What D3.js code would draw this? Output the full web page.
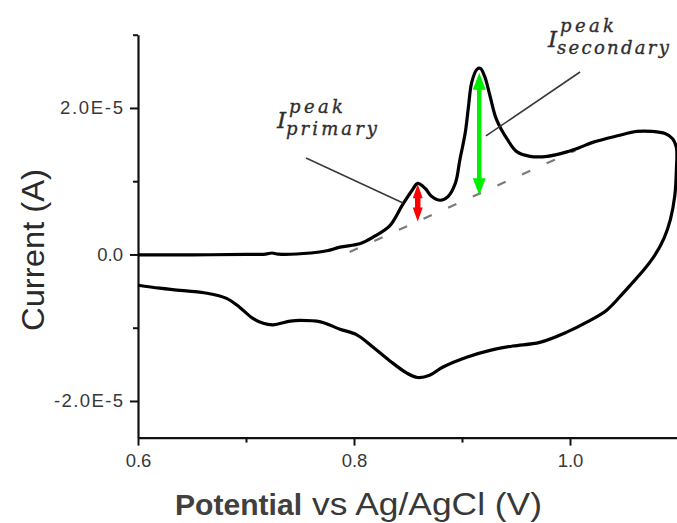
<!DOCTYPE html>
<html>
<head>
<meta charset="utf-8">
<script src="https://cdn.jsdelivr.net/npm/d3@7/dist/d3.min.js"></script>
<style>
  html, body { margin: 0; padding: 0; background: #fff; }
  svg { display: block; }
</style>
</head>
<body>
<svg id="chart" width="677" height="523"></svg>
<script>
// ---------- DATA ----------
// Cyclic voltammogram: potential (V vs Ag/AgCl) and current (µA), forward then reverse scan
const potential = [
  0.600, 0.650, 0.700, 0.718, 0.724, 0.730, 0.760, 0.775, 0.787, 0.806, 0.818, 0.833, 0.845, 0.854,
  0.859, 0.866, 0.872, 0.880, 0.887, 0.894, 0.898, 0.903, 0.906, 0.909, 0.914, 0.917, 0.921, 0.926,
  0.932, 0.942, 0.951, 0.963, 0.979, 0.997, 1.009, 1.021, 1.044, 1.062, 1.076, 1.088, 1.095, 1.0985,
  1.0985,
  1.097, 1.093, 1.087, 1.079, 1.069, 1.057, 1.049, 1.034, 1.016, 0.997, 0.972, 0.947, 0.926,
  0.905, 0.882, 0.870, 0.859, 0.849, 0.833, 0.818, 0.803, 0.787, 0.769, 0.750, 0.741, 0.725, 0.716,
  0.706, 0.694, 0.682, 0.664, 0.639, 0.620, 0.600
];
const currentMicroA = [
  -0.05, -0.05, 0.0, 0.05, 0.2, 0.05, 0.2, 0.5, 1.0, 1.5, 2.4, 3.9, 6.8, 8.8,
  9.7, 9.0, 7.9, 7.4, 7.9, 9.8, 12.9, 16.6, 20.2, 23.5, 25.3, 25.4, 24.3, 21.6,
  18.4, 15.7, 14.0, 13.4, 13.4, 14.0, 14.6, 15.3, 16.2, 16.8, 16.8, 16.5, 15.8, 14.6,
  11.5,
  8.0, 4.8, 2.2, 0.0, -2.0, -4.0, -5.3, -7.6, -9.2, -10.6, -12.0, -12.5, -13.1,
  -14.0, -15.4, -16.5, -16.8, -16.2, -14.5, -12.7, -11.0, -10.2, -9.2, -9.0, -9.1, -9.6, -9.4,
  -8.7, -7.2, -6.0, -5.3, -4.9, -4.6, -4.2
];

// Baseline (dashed) endpoints
const baselineV = [0.796, 1.005];
const baselineI = [0.34, 14.2];

// Peak-height arrows: [potential, bottom current, top current]
const primaryArrow = [0.859, 4.5, 9.6];
const secondaryArrow = [0.916, 8.1, 24.8];

// Leader lines [V1, I1, V2, I2]
const primaryLeader = [0.7556, 13.17, 0.8454, 7.03];
const secondaryLeader = [1.0093, 24.91, 0.9222, 16.18];

// Label anchors [V, I] (left edge of "I", baseline)
const primaryLabelAt = [0.7287, 17.2];
const secondaryLabelAt = [0.9796, 28.3];
const labelSubs = ["primary", "secondary"];
const labelSup = "peak";

// Axes
const xDomain = [0.6, 1.1];
const yDomain = [-25, 30];
const xTicks = [0.6, 0.8, 1.0];
const xTickLabels = ["0.6", "0.8", "1.0"];
const xMinorTicks = [0.7, 0.9];
const yTicks = [-20, 0, 20];
const yTickLabels = ["-2.0E-5", "0.0", "2.0E-5"];
const yMinorTicks = [-10, 10, 30];
const xTitleBold = "Potential";
const xTitleRest = "vs Ag/AgCl (V)";
const yTitle = "Current (A)";

// ---------- DRAW ----------
const svg = d3.select("#chart");
svg.append("rect").attr("width", 677).attr("height", 523).attr("fill", "#fff");

const x = d3.scaleLinear().domain(xDomain).range([138, 678]);
const y = d3.scaleLinear().domain(yDomain).range([437.6, 34.7]);

const textColor = "#383838";

// x axis
svg.append("g").attr("transform", "translate(0,437.6)")
  .call(d3.axisBottom(x).tickValues(xTicks).tickSize(8).tickSizeOuter(0).tickPadding(8)
    .tickFormat((d, i) => xTickLabels[i]));
svg.append("g").attr("transform", "translate(0,437.6)")
  .call(d3.axisBottom(x).tickValues(xMinorTicks).tickSize(5).tickSizeOuter(0).tickFormat(""))
  .select(".domain").remove();

// y axis
const yAxis = svg.append("g").attr("transform", "translate(138,0)")
  .call(d3.axisLeft(y).tickValues(yTicks).tickSize(8).tickSizeOuter(0).tickPadding(7)
    .tickFormat((d, i) => yTickLabels[i]));
svg.append("g").attr("transform", "translate(138,0)")
  .call(d3.axisLeft(y).tickValues(yMinorTicks).tickSize(5).tickSizeOuter(0).tickFormat(""))
  .select(".domain").remove();

svg.selectAll(".domain").attr("stroke", "#111").attr("stroke-width", 2.2);
svg.selectAll(".tick line").attr("stroke", "#111").attr("stroke-width", 2);
svg.selectAll(".tick text")
  .attr("font-family", "'Liberation Sans', Arial, sans-serif")
  .attr("font-size", 18.5)
  .attr("fill", textColor);
yAxis.selectAll(".tick text").each(function(d, i) {
  const t = yTickLabels[i];
  if (t.indexOf("E") >= 0) d3.select(this).attr("textLength", t.length === 7 ? 69 : 63).attr("lengthAdjust", "spacing");
});

// axis titles
svg.append("text").attr("x", 175).attr("y", 515)
  .attr("font-family", "'Liberation Sans', Arial, sans-serif").attr("font-weight", "bold")
  .attr("font-size", 30).attr("fill", "#404040")
  .attr("textLength", 127).attr("lengthAdjust", "spacingAndGlyphs")
  .text(xTitleBold);
svg.append("text").attr("x", 312).attr("y", 515)
  .attr("font-family", "'Liberation Sans', Arial, sans-serif")
  .attr("font-size", 31).attr("fill", textColor)
  .attr("textLength", 230).attr("lengthAdjust", "spacingAndGlyphs")
  .text(xTitleRest);
svg.append("text")
  .attr("transform", "translate(44,250) rotate(-90)")
  .attr("text-anchor", "middle")
  .attr("font-family", "'Liberation Sans', Arial, sans-serif")
  .attr("font-size", 31).attr("fill", "#2a2a2a")
  .attr("textLength", 162).attr("lengthAdjust", "spacingAndGlyphs")
  .text(yTitle);

// dashed baseline
svg.append("line")
  .attr("x1", x(baselineV[0])).attr("y1", y(baselineI[0]))
  .attr("x2", x(baselineV[1])).attr("y2", y(baselineI[1]))
  .attr("stroke", "#7a7a7a").attr("stroke-width", 2.2)
  .attr("stroke-dasharray", "9,18");

// CV curve
const pts = potential.map((v, i) => [v, currentMicroA[i]]);
const line = d3.line().x(d => x(d[0])).y(d => y(d[1])).curve(d3.curveCatmullRom.alpha(0.5));
svg.append("path").datum(pts).attr("d", line)
  .attr("fill", "none").attr("stroke", "#000").attr("stroke-width", 3.2)
  .attr("stroke-linejoin", "round");

// leader lines
[primaryLeader, secondaryLeader].forEach(l => {
  svg.append("line")
    .attr("x1", x(l[0])).attr("y1", y(l[1])).attr("x2", x(l[2])).attr("y2", y(l[3]))
    .attr("stroke", "#3a3a3a").attr("stroke-width", 1.6);
});

// double-headed arrows
function arrow(a, color, headLen, headW, shaftW) {
  const xp = x(a[0]), yb = y(a[1]), yt = y(a[2]);
  const g = svg.append("g");
  g.append("line").attr("x1", xp).attr("x2", xp).attr("y1", yb - headLen * 0.6).attr("y2", yt + headLen * 0.6)
    .attr("stroke", color).attr("stroke-width", shaftW);
  g.append("path").attr("d", `M${xp},${yt} L${xp - headW / 2},${yt + headLen} L${xp + headW / 2},${yt + headLen} Z`).attr("fill", color);
  g.append("path").attr("d", `M${xp},${yb} L${xp - headW / 2},${yb - headLen} L${xp + headW / 2},${yb - headLen} Z`).attr("fill", color);
}
arrow(primaryArrow, "#ff0000", 14, 10, 5.5);
arrow(secondaryArrow, "#00ee00", 17, 13, 4.5);

// labels I^{peak}_{sub}
function peakLabel(at, sub, subLen) {
  const x0 = x(at[0]), b = y(at[1]);
  const g = svg.append("g").attr("fill", "#2e2e2e").attr("stroke", "#2e2e2e").attr("stroke-width", 0.35)
    .attr("font-family", "'DejaVu Serif', serif").attr("font-style", "italic");
  g.append("text").attr("x", x0).attr("y", b).attr("font-size", 23).text("I");
  g.append("text").attr("x", x0 + 12).attr("y", b - 15).attr("font-size", 18)
    .attr("textLength", 54).attr("lengthAdjust", "spacing").text(labelSup);
  g.append("text").attr("x", x0 + 9).attr("y", b + 7).attr("font-size", 18)
    .attr("textLength", subLen).attr("lengthAdjust", "spacing").text(sub);
}
peakLabel(primaryLabelAt, labelSubs[0], 91);
peakLabel(secondaryLabelAt, labelSubs[1], 112);
</script>
</body>
</html>
